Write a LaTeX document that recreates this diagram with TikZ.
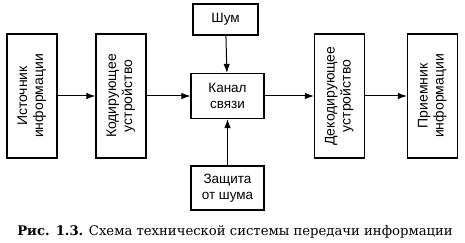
\documentclass[tikz,border=0pt]{standalone}
\usepackage{fontspec}
\usepackage{graphicx}
\setmainfont{Liberation Sans}
\newfontfamily\capfont{DejaVu Serif}
\usetikzlibrary{arrows.meta}

\begin{document}
\begin{tikzpicture}[x=1pt,y=1pt]

\tikzstyle{TALL} = [rectangle, minimum width=50pt, minimum height=124pt, inner sep=0pt, draw=black, line width=1.2pt, font=\fontsize{14}{16}\selectfont]
\tikzstyle{BOX} = [rectangle, minimum width=73pt, minimum height=45pt, inner sep=0pt, text centered, align=center, draw=black, line width=1.2pt, font=\fontsize{13.5}{16}\selectfont]
\tikzstyle{arrow} = [line width=1pt, -{Latex[length=9pt,width=6.5pt]}]

\useasboundingbox (0,0) rectangle (465,243);

\node (src) [TALL] at (32,147) {\rotatebox{90}{\begin{tabular}{@{}c@{}}Источник\\информации\end{tabular}}};
\node (coder) [TALL] at (121,147) {\rotatebox{90}{\begin{tabular}{@{}c@{}}Кодирующее\\устройство\end{tabular}}};
\node (chan) [BOX] at (227.5,147) {Канал\\связи};
\node (noise) [BOX, minimum width=65pt, minimum height=31pt] at (225.5,223.5) {Шум};
\node (guard) [BOX, minimum height=44pt] at (227.5,55) {Защита\\от шума};
\node (decoder) [TALL] at (339.5,147) {\rotatebox{90}{\begin{tabular}{@{}c@{}}Декодирующее\\устройство\end{tabular}}};
\node (dst) [TALL] at (432.5,147) {\rotatebox{90}{\begin{tabular}{@{}c@{}}Приемник\\информации\end{tabular}}};
\node (caption) at (235,11) {\capfont\fontsize{13.2}{15}\selectfont\textbf{Рис. 1.3.} Схема технической системы передачи информации};

\draw[arrow] (src) -- (coder);
\draw[arrow] (coder) -- (chan);
\draw[arrow] (chan) -- (decoder);
\draw[arrow] (decoder) -- (dst);
\draw[arrow] (noise) -- (chan);
\draw[arrow] (guard) -- (chan);

\end{tikzpicture}
\end{document}
